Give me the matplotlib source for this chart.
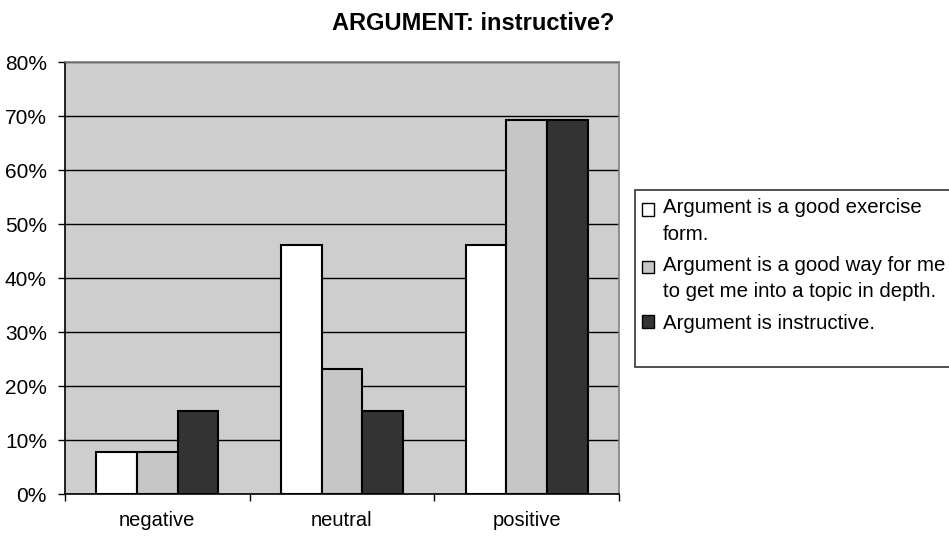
import matplotlib
matplotlib.use("Agg")
import matplotlib.pyplot as plt
from matplotlib.patches import Rectangle
from matplotlib.ticker import FuncFormatter, FixedLocator
from matplotlib.legend_handler import HandlerPatch, update_from_first_child
import numpy as np

plt.rcParams['font.family'] = ['Liberation Sans', 'DejaVu Sans']

# Survey answers (percent of respondents)
categories = ["negative", "neutral", "positive"]
series_labels = [
    "Argument is a good exercise\nform.",
    "Argument is a good way for me\nto get me into a topic in depth.",
    "Argument is instructive.",
]
exercise_form = [7.7, 46.2, 46.2]
topic_in_depth = [7.7, 23.1, 69.2]
instructive = [15.4, 15.4, 69.2]
series_values = [exercise_form, topic_in_depth, instructive]
series_colors = ["#FFFFFF", "#C6C6C6", "#333333"]
y_ticks = [0, 10, 20, 30, 40, 50, 60, 70, 80]

W, H = 949, 536
fig = plt.figure(figsize=(W / 100, H / 100), dpi=100)
ax = fig.add_axes([65 / W, 1 - 494 / H, (619 - 65) / W, (494 - 62) / H])
ax.set_facecolor("#CECECE")

x = np.arange(len(categories))
bw = 0.22
offsets = [-bw, 0.0, bw]
for vals, col, lab, off in zip(series_values, series_colors, series_labels, offsets):
    ax.bar(x + off, vals, width=bw, color=col, edgecolor="black",
           linewidth=1.5, label=lab, zorder=3)

ax.set_xlim(-0.5, len(categories) - 0.5)
ax.set_ylim(0, 80)
ax.yaxis.set_major_locator(FixedLocator(y_ticks))
ax.yaxis.set_major_formatter(FuncFormatter(lambda v, p: f"{v:.0f}%"))
ax.grid(axis="y", color="black", linewidth=1.0, zorder=1)
ax.set_axisbelow(True)

# category boundaries get tick marks, names sit between them
ax.xaxis.set_major_locator(FixedLocator(np.arange(-0.5, len(categories), 1.0)))
ax.xaxis.set_major_formatter(FuncFormatter(lambda v, p: ""))
ax.xaxis.set_minor_locator(FixedLocator(x))
ax.set_xticklabels(categories, minor=True)
ax.tick_params(axis="x", which="major", direction="out", length=5, width=1)
ax.tick_params(axis="x", which="minor", length=0, pad=12, labelsize=14.5)
ax.tick_params(axis="y", direction="out", length=5, width=1, pad=8, labelsize=15)

for side in ("left", "bottom"):
    ax.spines[side].set_color("black")
    ax.spines[side].set_linewidth(1.2)
for side in ("top", "right"):
    ax.spines[side].set_color("#808080")
    ax.spines[side].set_linewidth(1.2)

fig.text(473 / W, 1 - 23 / H, "ARGUMENT: instructive?", ha="center", va="center",
         fontsize=17, fontweight="bold")

# legend box
fig.patches.append(Rectangle((635 / W, 1 - 367 / H), (W + 10 - 635) / W, (367 - 190) / H,
                             transform=fig.transFigure, facecolor="white",
                             edgecolor="#333333", linewidth=1.2, zorder=0))


def top_aligned(nlines):
    # keep the swatch beside the first line of a wrapped label
    shift = (nlines - 1) * 8.6

    def make(legend, orig_handle, xdescent, ydescent, width, height, fontsize):
        return Rectangle((-xdescent, -ydescent + shift), width, height)
    return HandlerPatch(patch_func=make, update_func=update_from_first_child)


handles, labels = ax.get_legend_handles_labels()
hmap = {h: top_aligned(lab.count("\n") + 1) for h, lab in zip(handles, labels)}
leg = fig.legend(handles, labels, handler_map=hmap,
                 loc="upper left", bbox_to_anchor=(638 / W, 1 - 194 / H),
                 frameon=False, fontsize=14.7, handlelength=0.58, handleheight=0.58,
                 handletextpad=0.45, labelspacing=0.6, borderpad=0.2,
                 borderaxespad=0)
for t in leg.get_texts():
    t.set_linespacing(1.5)
for h in leg.legend_handles:
    h.set_linewidth(1.0)

fig.savefig("out.png", dpi=100)
